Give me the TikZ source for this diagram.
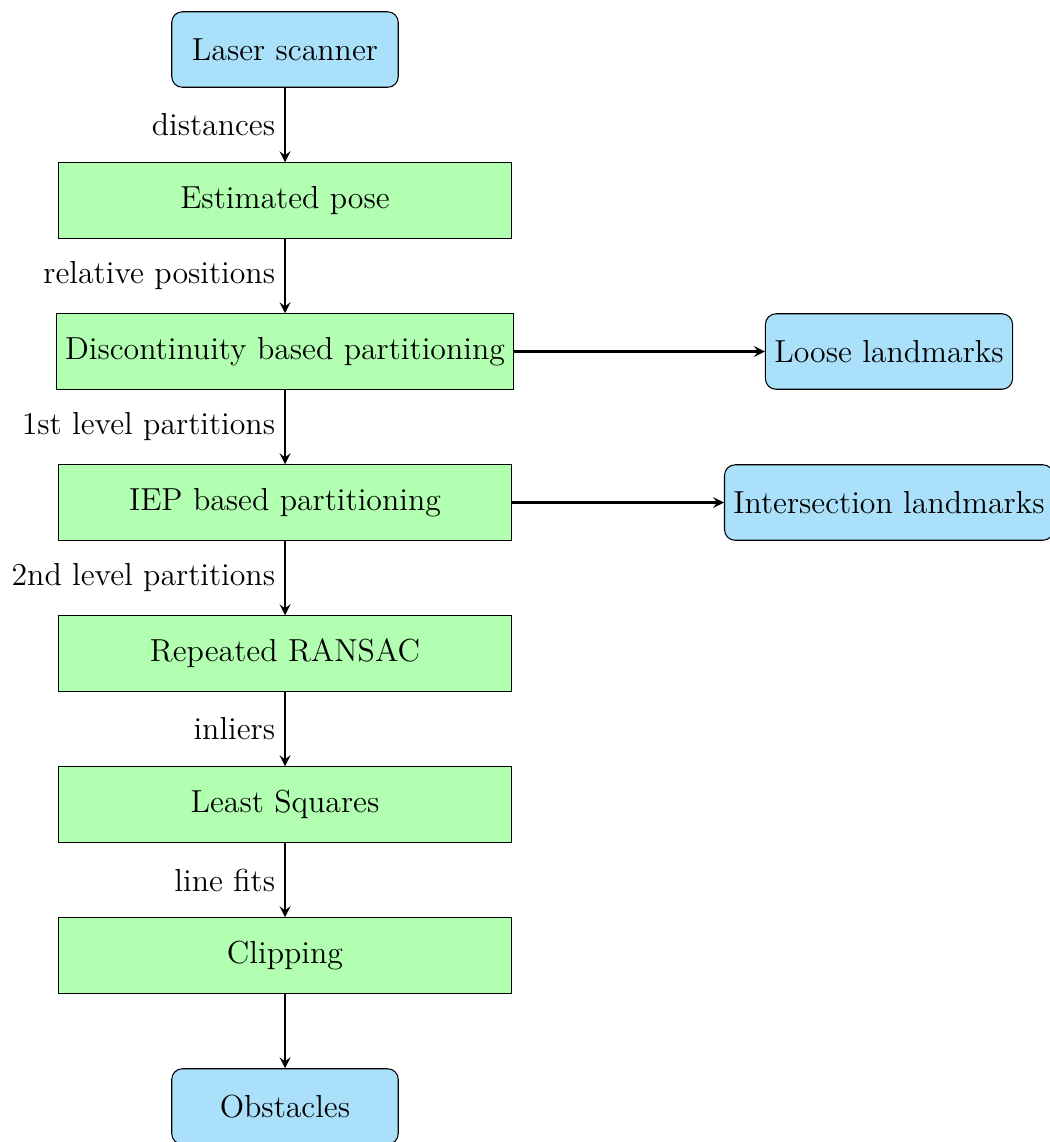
\documentclass[tikz,border=0pt]{standalone}
\definecolor{scanblue}{RGB}{170,224,249}

\begin{document}
\begin{tikzpicture}[node distance=2cm, font=\large,
    block/.style={rectangle, draw, fill=green!30, minimum width=6cm, minimum height=1cm},
    io/.style={rectangle, draw, fill=scanblue, rounded corners, minimum width=3cm, minimum height=1cm},
    arrow/.style={->,>=stealth,thick}]

    \useasboundingbox (-3.775,0.656) rectangle (10.12,-14.47);

    \node[io] (scanner) {Laser scanner};
    \node[block, below of=scanner] (pose) {Estimated pose};
    \node[block, below of=pose] (discont) {Discontinuity based partitioning};
    \node[block, below of=discont] (iep) {IEP based partitioning};
    \node[block, below of=iep] (ransac) {Repeated RANSAC};
    \node[block, below of=ransac] (lsq) {Least Squares};
    \node[block, below of=lsq] (clip) {Clipping};
    \node[io, below of=clip] (obstacles) {Obstacles};
    \node[io, right of=discont, node distance=8cm] (loose) {Loose landmarks};
    \node[io, right of=iep, node distance=8cm] (inter) {Intersection landmarks};

    \draw[arrow] (scanner) -- node[left] {distances} (pose);
    \draw[arrow] (pose) -- node[left] {relative positions} (discont);
    \draw[arrow] (discont) -- node[left] {1st level partitions} (iep);
    \draw[arrow] (iep) -- node[left] {2nd level partitions} (ransac);
    \draw[arrow] (ransac) -- node[left] {inliers} (lsq);
    \draw[arrow] (lsq) -- node[left] {line fits} (clip);
    \draw[arrow] (clip) -- (obstacles);
    \draw[arrow] (discont) -- (loose);
    \draw[arrow] (iep) -- (inter);
\end{tikzpicture}
\end{document}
